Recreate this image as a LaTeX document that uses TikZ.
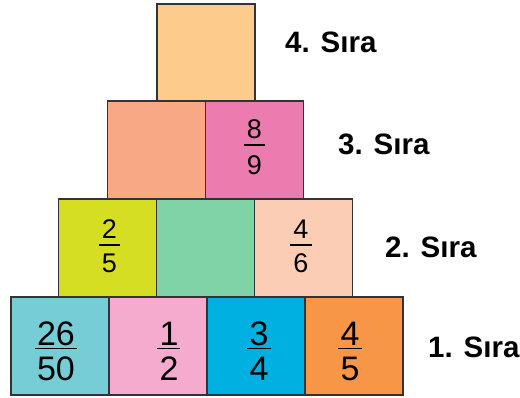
\documentclass[tikz,border=0pt]{standalone}
\usepackage{fontspec}
\setmainfont{Liberation Sans}
\definecolor{cA}{HTML}{76CDD6}
\definecolor{cB}{HTML}{F5ABCE}
\definecolor{cC}{HTML}{00B0E0}
\definecolor{cD}{HTML}{F79646}
\definecolor{cE}{HTML}{D6DE23}
\definecolor{cF}{HTML}{80D3A7}
\definecolor{cG}{HTML}{FBCDB5}
\definecolor{cH}{HTML}{F9A886}
\definecolor{cI}{HTML}{EC7BB0}
\definecolor{cJ}{HTML}{FDCB8B}
\definecolor{edge}{HTML}{333333}
\begin{document}
\begin{tikzpicture}[x=1pt,y=-1pt,
  box/.style={draw=edge,line width=1.2pt,minimum width=98pt,minimum height=98pt,inner sep=0pt,outer sep=0pt},
  bigdig/.style={anchor=base,inner sep=0pt,font=\fontsize{34}{34}\selectfont},
  smalldig/.style={anchor=base,inner sep=0pt,font=\fontsize{27}{27}\selectfont},
  fbar/.style={line width=1.8pt,black},
  rowlab/.style={anchor=base west,inner sep=0pt,font=\fontsize{29.5}{29.5}\bfseries\selectfont}]
\useasboundingbox (0,0) rectangle (520,398);
% row 1
\node[box,fill=cA] (b11) at (60,346) {};
\node[box,fill=cB] (b12) at (158,346) {};
\node[box,fill=cC] (b13) at (256,346) {};
\node[box,fill=cD] (b14) at (354,346) {};
% row 2
\node[box,fill=cE] (b21) at (107.5,248) {};
\node[box,fill=cF] (b22) at (205.5,248) {};
\node[box,fill=cG] (b23) at (303.5,248) {};
% row 3
\node[box,fill=cH] (b31) at (156.5,150) {};
\node[box,fill=cI] (b32) at (254.5,150) {};
% row 4
\node[box,fill=cJ,minimum height=97pt] (b41) at (206,52.5) {};
% fractions row 1
\node[bigdig] (n11) at (56,345) {26};
\node[bigdig] (d11) at (56,381) {50};
\draw[fbar] (35,348.5) -- (77,348.5);
\node[bigdig] (n12) at (169,345) {1};
\node[bigdig] (d12) at (169,381) {2};
\draw[fbar] (157,348.5) -- (180,348.5);
\node[bigdig] (n13) at (259,345) {3};
\node[bigdig] (d13) at (259,381) {4};
\draw[fbar] (247,348.5) -- (271,348.5);
\node[bigdig] (n14) at (350,345) {4};
\node[bigdig] (d14) at (350,381) {5};
\draw[fbar] (338,348.5) -- (362,348.5);
% fractions row 2
\node[smalldig] (n21) at (109.5,238.5) {2};
\node[smalldig] (d21) at (109.5,272.5) {5};
\draw[fbar] (99,245) -- (120,245);
\node[smalldig] (n23) at (301,238.5) {4};
\node[smalldig] (d23) at (301,272.5) {6};
\draw[fbar] (290,245) -- (312,245);
% fraction row 3
\node[smalldig] (n32) at (254.5,138.5) {8};
\node[smalldig] (d32) at (254.5,175) {9};
\draw[fbar] (244,145) -- (265,145);
% labels
\node[rowlab] (l4) at (285,53) {4. Sıra};
\node[rowlab] (l3) at (338,155) {3. Sıra};
\node[rowlab] (l2) at (385,258) {2. Sıra};
\node[rowlab] (l1) at (428,358) {1. Sıra};
\end{tikzpicture}
\end{document}
